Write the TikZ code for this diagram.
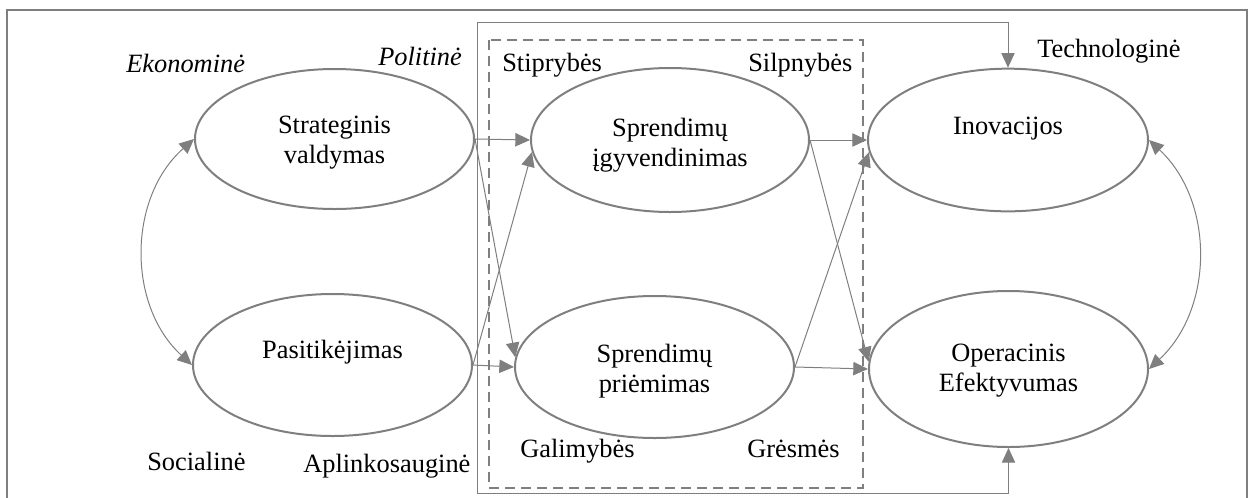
\documentclass[tikz,border=0pt]{standalone}
\usepackage{fontspec}
\setmainfont{Liberation Serif}
\usetikzlibrary{arrows.meta,shapes.geometric}
\definecolor{linegray}{HTML}{7F7F7F}
\begin{document}
\begin{tikzpicture}[x=0.75pt,y=-0.75pt,
  font=\fontsize{19.8pt}{22.5pt}\selectfont,
  >={Triangle[length=11pt,width=10pt]},
  oval/.style={ellipse, draw=linegray, line width=1.5pt, inner sep=0pt},
  conn/.style={draw=linegray, line width=0.75pt, ->},
  twoway/.style={draw=linegray, line width=0.75pt, <->},
  lbl/.style={inner sep=0pt, anchor=base west},
  caption/.style={align=center, inner sep=0pt}]
\useasboundingbox (0,0) rectangle (1253,497);

% outer frame (open at the bottom edge)
\draw[linegray, line width=1.5pt] (7,510) -- (7,10) -- (1247,10) -- (1247,510);

% SWOT box
\draw[linegray, line width=1.5pt, dash pattern=on 7.5pt off 4.5pt] (489,40) rectangle (863,488);

% ellipses
\node[oval, minimum width=209.25pt, minimum height=105pt] (strat) at (334.5,139) {};
\node[oval, minimum width=208.5pt, minimum height=108pt] (impl) at (670,140) {};
\node[oval, minimum width=210pt, minimum height=107pt] (inov) at (1008,140) {};
\node[oval, minimum width=209.25pt, minimum height=106.5pt] (trust) at (332.5,365) {};
\node[oval, minimum width=209.25pt, minimum height=106.5pt] (dec) at (654.5,367) {};
\node[oval, minimum width=209.25pt, minimum height=117pt] (oper) at (1008.5,369) {};

% ellipse captions
\node[caption] (strat-t) at (334.5,143) {Strateginis\\valdymas};
\node[caption] (impl-t) at (670,145) {Sprendimų\\įgyvendinimas};
\node[caption] (inov-t) at (1008,129) {Inovacijos};
\node[caption] (trust-t) at (332.5,352) {Pasitikėjimas};
\node[caption] (dec-t) at (654.5,371) {Sprendimų\\priėmimas};
\node[caption] (oper-t) at (1008.5,371) {Operacinis\\Efektyvumas};

% environment labels
\node[lbl] (eko) at (126,72) {\itshape Ekonominė};
\node[lbl] (pol) at (378,65) {\itshape Politinė};
\node[lbl] (tech) at (1037,57) {Technologinė};
\node[lbl] (soc) at (147,470) {Socialinė};
\node[lbl] (apl) at (303,472) {Aplinkosauginė};

% SWOT labels
\node[lbl] (str) at (502,71) {Stiprybės};
\node[lbl] (wk) at (748,71) {Silpnybės};
\node[lbl] (opp) at (520,457) {Galimybės};
\node[lbl] (thr) at (747,457) {Grėsmės};

% links between ellipses
\draw[conn] (strat.east) -- (impl.west);
\draw[conn] (strat.east) -- (dec.176);
\draw[conn] (trust.east) -- (impl.185);
\draw[conn] (trust.east) -- (dec.west);
\draw[conn] (impl.east) -- (inov.west);
\draw[conn] (impl.east) -- (oper.177);
\draw[conn] (dec.east) -- (inov.185);
\draw[conn] (dec.east) -- (oper.west);

% two-way curved links
\draw[twoway] (strat.west) to[bend right=48] (trust.west);
\draw[twoway] (inov.east) to[bend left=47] (oper.east);

% bracket around the decision block
\coordinate (brk-tl) at (477,22);
\coordinate (brk-bl) at (477,493);
\draw[twoway] (inov.north) |- (brk-tl) -- (brk-bl) -| (oper.south);
\end{tikzpicture}
\end{document}
